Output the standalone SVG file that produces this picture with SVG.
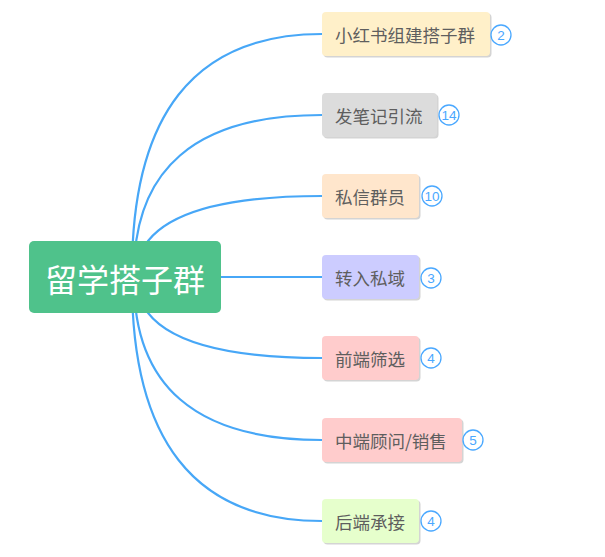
<svg xmlns="http://www.w3.org/2000/svg" width="605" height="557" viewBox="0 0 605 557">
<style>
.c{fill:none;stroke:#47a7f7;stroke-width:2.2}
.sh{fill:#d4d4d4}
.t{font-family:"Noto Sans CJK SC","Noto Sans",sans-serif;font-size:17.5px;fill:#5e5e5e;dominant-baseline:central}
.b{fill:#fff;stroke:#4aa8ff;stroke-width:1.3}
.bt{font-family:"Liberation Sans","Noto Sans",sans-serif;font-size:13.5px;fill:#4aa8ff;text-anchor:middle;dominant-baseline:central}
.rt{font-family:"Noto Sans CJK SC","Noto Sans",sans-serif;font-size:32px;fill:#fff;text-anchor:middle;dominant-baseline:central}
</style>
<rect width="605" height="557" fill="#fff"/>
<g id="connectors">
<path class="c" d="M132 277 Q130 34 322 34"/>
<path class="c" d="M134 277 Q132 115 322 115"/>
<path class="c" d="M136 277 Q136 196 322 196"/>
<path class="c" d="M200 277 L322 277"/>
<path class="c" d="M136 277 Q136 358 322 358"/>
<path class="c" d="M134 277 Q132 440 322 440"/>
<path class="c" d="M132 277 Q130 521 322 521"/>
</g>
<g id="root">
<rect x="29" y="241" width="192" height="72" rx="5" fill="#4fc28b"/>
<text class="rt" x="125" y="278">留学搭子群</text>
</g>
<g id="n1">
<rect class="sh" x="323.5" y="13.5" width="168" height="44" rx="4"/>
<rect x="322" y="12" width="168" height="44" rx="4" fill="#fff0c9"/>
<text class="t" x="335" y="34">小红书组建搭子群</text>
<circle class="b" cx="501" cy="35" r="10"/><text class="bt" x="501" y="35">2</text>
</g>
<g id="n2">
<rect class="sh" x="323.5" y="94.5" width="115" height="44" rx="4"/>
<rect x="322" y="93" width="115" height="44" rx="4" fill="#dcdcdc"/>
<text class="t" x="335" y="115">发笔记引流</text>
<circle class="b" cx="449" cy="115" r="10"/><text class="bt" x="449" y="115">14</text>
</g>
<g id="n3">
<rect class="sh" x="323.5" y="175.5" width="97" height="44" rx="4"/>
<rect x="322" y="174" width="97" height="44" rx="4" fill="#ffe6cc"/>
<text class="t" x="335" y="196">私信群员</text>
<circle class="b" cx="432" cy="196" r="10"/><text class="bt" x="432" y="196">10</text>
</g>
<g id="n4">
<rect class="sh" x="323.5" y="256.5" width="97" height="44" rx="4"/>
<rect x="322" y="255" width="97" height="44" rx="4" fill="#ccccff"/>
<text class="t" x="335" y="277">转入私域</text>
<circle class="b" cx="431" cy="278" r="10"/><text class="bt" x="431" y="278">3</text>
</g>
<g id="n5">
<rect class="sh" x="323.5" y="337.5" width="97" height="44" rx="4"/>
<rect x="322" y="336" width="97" height="44" rx="4" fill="#ffcccc"/>
<text class="t" x="335" y="358">前端筛选</text>
<circle class="b" cx="431" cy="358" r="10"/><text class="bt" x="431" y="358">4</text>
</g>
<g id="n6">
<rect class="sh" x="323.5" y="419.5" width="140" height="44" rx="4"/>
<rect x="322" y="418" width="140" height="44" rx="4" fill="#ffcccc"/>
<text class="t" x="335" y="440">中端顾问/销售</text>
<circle class="b" cx="473" cy="440" r="10"/><text class="bt" x="473" y="440">5</text>
</g>
<g id="n7">
<rect class="sh" x="323.5" y="500.5" width="97" height="44" rx="4"/>
<rect x="322" y="499" width="97" height="44" rx="4" fill="#e6ffcc"/>
<text class="t" x="335" y="521">后端承接</text>
<circle class="b" cx="431" cy="521" r="10"/><text class="bt" x="431" y="521">4</text>
</g>
</svg>
